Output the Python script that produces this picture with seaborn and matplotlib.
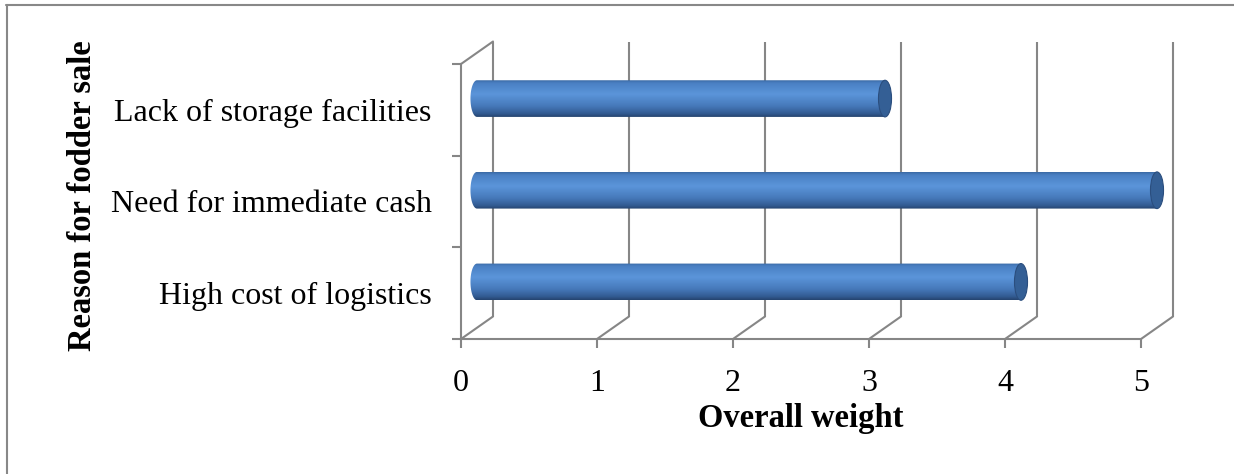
import numpy as np
import pandas as pd
import matplotlib
matplotlib.use("Agg")
import matplotlib.pyplot as plt
import seaborn as sns
from matplotlib.path import Path
from matplotlib.patches import PathPatch, Ellipse
from matplotlib.colors import LinearSegmentedColormap
from matplotlib.lines import Line2D

# ---- data ----
categories = ["Lack of storage facilities", "Need for immediate cash", "High cost of logistics"]
weights = [3, 5, 4]
x_ticks = [0, 1, 2, 3, 4, 5]
x_label = "Overall weight"
y_label = "Reason for fodder sale"

sns.set_style("white")
plt.rcParams["font.family"] = ["Liberation Serif", "DejaVu Serif"]
plt.rcParams["text.color"] = "black"
plt.rcParams["axes.labelcolor"] = "black"

W, H, DPI = 1234, 474, 100
fig = plt.figure(figsize=(W / DPI, H / DPI), dpi=DPI)

# front plane of the pseudo-3D chart
ax_l, ax_r, ax_t, ax_b = 461, 1141, 64, 339
ax = fig.add_axes([ax_l / W, 1 - ax_b / H, (ax_r - ax_l) / W, (ax_b - ax_t) / H])

df = pd.DataFrame({"reason": categories, "weight": weights})
sns.barplot(data=df, x="weight", y="reason", orient="h", width=0.4,
            color="#4F81BD", saturation=1, ax=ax, zorder=3)

ax.set_xlim(0, 5)
ax.set_ylim(2.5, -0.5)

GRID = "#868686"
LW = 1.5
# depth offset (back wall) in data units
px_x = (ax_r - ax_l) / 5.0
px_y = (ax_b - ax_t) / 3.0
DX = 32 / px_x
DY = 22.5 / px_y

# back wall verticals + floor diagonals
for xv in x_ticks:
    ax.plot([xv + DX, xv + DX], [-0.5 - DY, 2.5 - DY], color=GRID, lw=LW,
            clip_on=False, zorder=1, solid_capstyle="butt")
    ax.plot([xv, xv + DX], [2.5, 2.5 - DY], color=GRID, lw=LW,
            clip_on=False, zorder=1)
ax.plot([0, DX], [-0.5, -0.5 - DY], color=GRID, lw=LW, clip_on=False, zorder=1)

# cylinder bars
cmap = LinearSegmentedColormap.from_list("cyl", [
    (0.0, "#3A69A4"), (0.08, "#4A80C3"), (0.38, "#5B95DA"),
    (0.7, "#4679BA"), (0.9, "#335C93"), (1.0, "#25436E")])
grad = np.linspace(0, 1, 256).reshape(-1, 1)
EA = 0.048  # ellipse semi-axis in x (data units)
for p in list(ax.patches):
    x0, w, y0, h = p.get_x(), p.get_width(), p.get_y(), p.get_height()
    xs0 = x0 + DX / 2
    xs1 = x0 + w + DX / 2
    yt = y0 - DY / 2
    yb = y0 + h - DY / 2
    yc = (yt + yb) / 2
    b = h / 2
    p.set_visible(False)
    t = np.linspace(0, np.pi, 40)
    ex = xs0 - EA * np.sin(t)
    ey = yc + b * np.cos(t)
    verts = [(xs0, yt), (xs1, yt), (xs1, yb), (xs0, yb)] + list(zip(ex, ey)) + [(xs0, yt)]
    codes = [Path.MOVETO] + [Path.LINETO] * (len(verts) - 2) + [Path.CLOSEPOLY]
    clip = PathPatch(Path(verts, codes), transform=ax.transData, facecolor="none",
                     edgecolor="none", clip_on=False)
    ax.add_patch(clip)
    im = ax.imshow(grad, cmap=cmap, aspect="auto", origin="upper",
                   extent=(xs0 - EA, xs1, yb, yt), zorder=3, interpolation="bilinear")
    im.set_clip_box(fig.bbox)
    im.set_clip_path(clip)
    cap = Ellipse((xs1, yc), width=2 * EA, height=h, facecolor="#345F95",
                  edgecolor="#2B4E7E", lw=0.8, zorder=4, clip_on=False)
    ax.add_patch(cap)

ax.set_xlim(0, 5)
ax.set_ylim(2.5, -0.5)

# spines (front plane)
for s in ["top", "right"]:
    ax.spines[s].set_visible(False)
for s in ["left", "bottom"]:
    ax.spines[s].set_color(GRID)
    ax.spines[s].set_linewidth(LW)
    ax.spines[s].set_zorder(2)

ax.set_xticks(x_ticks)
ax.set_xticklabels([str(v) for v in x_ticks])
ax.set_yticks(range(len(categories)))
ax.set_yticklabels(categories)
ax.set_yticks([-0.5, 0.5, 1.5, 2.5], minor=True)
ax.tick_params(axis="x", which="major", length=6.5, width=LW, color=GRID,
               direction="out", labelsize=23, pad=15, labelcolor="black", bottom=True)
ax.tick_params(axis="y", which="major", length=0, labelsize=23, pad=21,
               labelcolor="black")
ax.tick_params(axis="y", which="minor", length=6.5, width=LW, color=GRID,
               direction="out", left=True)
ax.grid(False)

ax.set_xlabel(x_label, fontsize=23.5, fontweight="bold", labelpad=4, color="black")
ax.set_ylabel(y_label, fontsize=23.5, fontweight="bold", color="black")
ax.yaxis.set_label_coords((98 - ax_l) / (ax_r - ax_l), (ax_b - 196) / (ax_b - ax_t))

# outer frame (top and left only visible)
fig.add_artist(Line2D([6 / W, 1], [1 - 5 / H, 1 - 5 / H], transform=fig.transFigure,
                      color="#888888", lw=1.5))
fig.add_artist(Line2D([7 / W, 7 / W], [0, 1 - 5 / H], transform=fig.transFigure,
                      color="#888888", lw=1.5))

fig.savefig("out.png", dpi=DPI)
